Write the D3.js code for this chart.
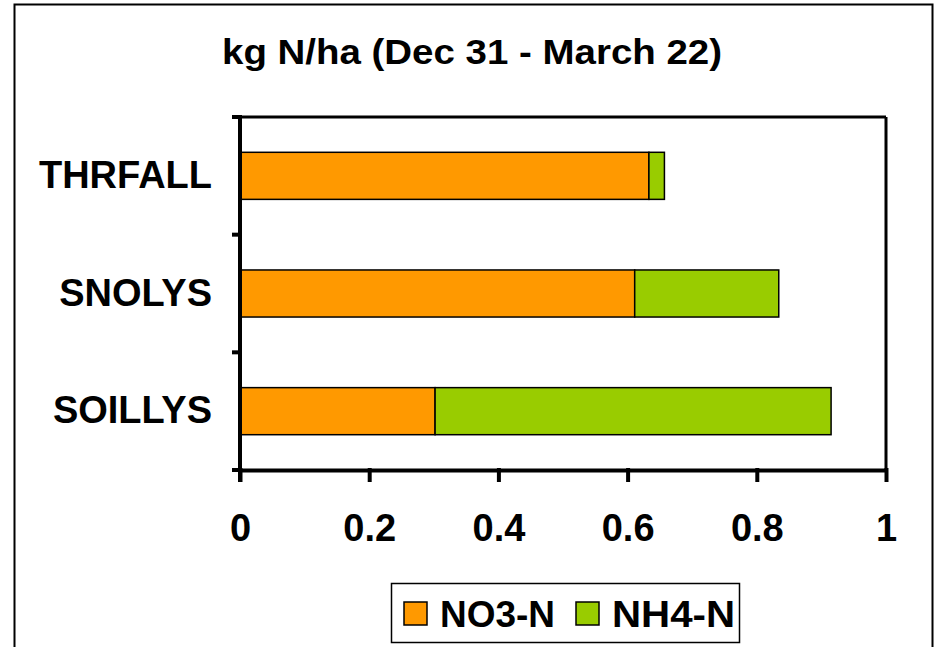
<!DOCTYPE html>
<html><head><meta charset="utf-8">
<script src="https://cdnjs.cloudflare.com/ajax/libs/d3/7.8.5/d3.min.js"></script>
<style>body{margin:0;background:#fff}svg{display:block;font-family:Arial,"Liberation Sans",sans-serif}</style>
</head><body>
<script>
const categories = ["THRFALL", "SNOLYS", "SOILLYS"];
const seriesNames = ["NO3-N", "NH4-N"];
const no3 = [0.633, 0.611, 0.302];
const nh4 = [0.024, 0.223, 0.613];
const xTicks = [0, 0.2, 0.4, 0.6, 0.8, 1];
const colors = ["#FF9900", "#99CC00"];
const title = "kg N/ha (Dec 31 - March 22)";

const W = 938, H = 647;
const FONT = "Arial, 'Liberation Sans', sans-serif";
const svg = d3.select("body").append("svg").attr("width", W).attr("height", H);
svg.append("rect").attr("x", 14.5).attr("y", 4.5).attr("width", 918).attr("height", 660)
  .attr("fill", "#fff").attr("stroke", "#000").attr("stroke-width", 2);

const L = 240, R = 886, T = 117, B = 470;
const x = d3.scaleLinear().domain([0, 1]).range([L, R]);
const y = d3.scaleBand().domain(categories).range([T, B]).paddingInner(0.6).paddingOuter(0.3);
const yEdges = d3.scaleLinear().domain([0, categories.length]).range([T, B]);

// plot frame
svg.append("line").attr("x1", L).attr("x2", R).attr("y1", T).attr("y2", T).attr("stroke", "#000").attr("stroke-width", 3);
svg.append("line").attr("x1", R).attr("x2", R).attr("y1", T).attr("y2", B).attr("stroke", "#000").attr("stroke-width", 3);

const rows = categories.map((c, i) => ({c, v: [no3[i], nh4[i]]}));
rows.forEach(r => {
  let acc = 0;
  r.v.forEach((v, k) => {
    svg.append("rect").attr("x", x(acc)).attr("y", y(r.c)).attr("width", x(acc + v) - x(acc))
      .attr("height", y.bandwidth()).attr("fill", colors[k]).attr("stroke", "#000").attr("stroke-width", 1.5);
    acc += v;
  });
});

// x axis
const xa = svg.append("g").attr("transform", `translate(0,${B})`)
  .call(d3.axisBottom(x).tickValues(xTicks).tickFormat(d3.format("~g")).tickSize(12));
xa.select(".domain").attr("stroke-width", 4).attr("d", `M${L-2},0.5H${R+2}`);
xa.selectAll(".tick line").attr("stroke-width", 4).attr("y1", -2);
xa.selectAll("text").attr("y", 71).attr("dy", 0).attr("font-size", 38).attr("font-weight", "bold")
  .attr("fill", "#000").attr("font-family", FONT);

// y axis
const ya = svg.append("g").attr("transform", `translate(${L},0)`);
ya.append("line").attr("x1", 0).attr("x2", 0).attr("y1", T - 2).attr("y2", B + 12).attr("stroke", "#000").attr("stroke-width", 4);
d3.range(categories.length + 1).forEach(i => {
  ya.append("line").attr("x1", -8).attr("x2", 0).attr("y1", yEdges(i)).attr("y2", yEdges(i)).attr("stroke", "#000").attr("stroke-width", 4);
});
categories.forEach(c => {
  svg.append("text").attr("x", 212).attr("y", y(c) + y.bandwidth() / 2 + 12)
    .attr("text-anchor", "end").attr("font-size", 38).attr("font-weight", "bold").text(c);
});

// title
svg.append("text").attr("x", 222).attr("y", 64)
  .attr("font-size", 35).attr("font-weight", "bold")
  .attr("textLength", 500).attr("lengthAdjust", "spacingAndGlyphs").text(title);

// legend
const lg = svg.append("g");
lg.append("rect").attr("x", 391.5).attr("y", 583.5).attr("width", 348).attr("height", 59)
  .attr("fill", "#fff").attr("stroke", "#000").attr("stroke-width", 1.5);
const lx = [404, 576];
const lw = [115, 123];
seriesNames.forEach((s, k) => {
  lg.append("rect").attr("x", lx[k]).attr("y", 602).attr("width", 23).attr("height", 23)
    .attr("fill", colors[k]).attr("stroke", "#000").attr("stroke-width", 1.5);
  lg.append("text").attr("x", lx[k] + 36).attr("y", 627).attr("font-size", 37).attr("font-weight", "bold")
    .attr("textLength", lw[k]).attr("lengthAdjust", "spacingAndGlyphs").text(s);
});
</script>
</body></html>
